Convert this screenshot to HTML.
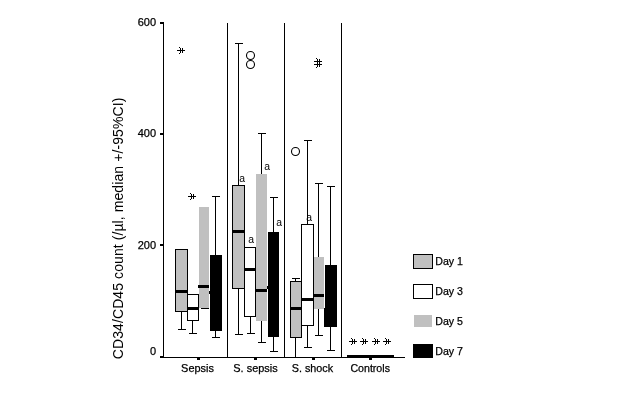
<!DOCTYPE html>
<html><head><meta charset="utf-8"><title>chart</title>
<style>
html,body{margin:0;padding:0;background:#fff;}
body{width:640px;height:400px;overflow:hidden;}
svg{display:block;will-change:transform;}
text{font-family:"Liberation Sans",sans-serif;fill:#000;}
.t11{font-size:11px;stroke:#000;stroke-width:0.25px;}
</style></head><body>
<svg width="640" height="400" viewBox="0 0 640 400">
<rect width="640" height="400" fill="#fff"/>

<rect x="181" y="312" width="1" height="18" fill="#000" shape-rendering="crispEdges"/>
<rect x="178" y="329" width="8" height="1" fill="#000" shape-rendering="crispEdges"/>
<rect x="175" y="249" width="13" height="63" fill="#000" shape-rendering="crispEdges"/>
<rect x="176" y="250" width="11" height="61" fill="#c0c0c0" shape-rendering="crispEdges"/>
<rect x="175" y="290" width="13" height="3" fill="#000" shape-rendering="crispEdges"/>
<rect x="192" y="321" width="1" height="13" fill="#000" shape-rendering="crispEdges"/>
<rect x="189" y="333" width="8" height="1" fill="#000" shape-rendering="crispEdges"/>
<rect x="187" y="294" width="12" height="27" fill="#000" shape-rendering="crispEdges"/>
<rect x="188" y="295" width="10" height="25" fill="#fff" shape-rendering="crispEdges"/>
<rect x="187" y="307" width="12" height="3" fill="#000" shape-rendering="crispEdges"/>
<rect x="199" y="207" width="10" height="101" fill="#c0c0c0" shape-rendering="crispEdges"/>
<rect x="198" y="285" width="11" height="3" fill="#000" shape-rendering="crispEdges"/>
<rect x="201" y="308" width="8" height="1" fill="#000" shape-rendering="crispEdges"/>
<rect x="215" y="196" width="1" height="59" fill="#000" shape-rendering="crispEdges"/>
<rect x="212" y="196" width="8" height="1" fill="#000" shape-rendering="crispEdges"/>
<rect x="215" y="331" width="1" height="7" fill="#000" shape-rendering="crispEdges"/>
<rect x="212" y="337" width="8" height="1" fill="#000" shape-rendering="crispEdges"/>
<rect x="210" y="255" width="12" height="76" fill="#000" shape-rendering="crispEdges"/>
<rect x="209" y="291" width="13" height="3" fill="#000" shape-rendering="crispEdges"/>
<rect x="238" y="43" width="1" height="142" fill="#000" shape-rendering="crispEdges"/>
<rect x="235" y="43" width="8" height="1" fill="#000" shape-rendering="crispEdges"/>
<rect x="238" y="289" width="1" height="46" fill="#000" shape-rendering="crispEdges"/>
<rect x="235" y="334" width="8" height="1" fill="#000" shape-rendering="crispEdges"/>
<rect x="232" y="185" width="13" height="104" fill="#000" shape-rendering="crispEdges"/>
<rect x="233" y="186" width="11" height="102" fill="#c0c0c0" shape-rendering="crispEdges"/>
<rect x="232" y="230" width="13" height="3" fill="#000" shape-rendering="crispEdges"/>
<rect x="250" y="317" width="1" height="17" fill="#000" shape-rendering="crispEdges"/>
<rect x="247" y="333" width="8" height="1" fill="#000" shape-rendering="crispEdges"/>
<rect x="244" y="247" width="12" height="70" fill="#000" shape-rendering="crispEdges"/>
<rect x="245" y="248" width="10" height="68" fill="#fff" shape-rendering="crispEdges"/>
<rect x="244" y="268" width="12" height="3" fill="#000" shape-rendering="crispEdges"/>
<rect x="261" y="133" width="1" height="41" fill="#000" shape-rendering="crispEdges"/>
<rect x="258" y="133" width="8" height="1" fill="#000" shape-rendering="crispEdges"/>
<rect x="261" y="321" width="1" height="22" fill="#000" shape-rendering="crispEdges"/>
<rect x="258" y="342" width="8" height="1" fill="#000" shape-rendering="crispEdges"/>
<rect x="256" y="174" width="11" height="147" fill="#c0c0c0" shape-rendering="crispEdges"/>
<rect x="255" y="289" width="12" height="3" fill="#000" shape-rendering="crispEdges"/>
<rect x="273" y="197" width="1" height="35" fill="#000" shape-rendering="crispEdges"/>
<rect x="270" y="197" width="8" height="1" fill="#000" shape-rendering="crispEdges"/>
<rect x="273" y="337" width="1" height="15" fill="#000" shape-rendering="crispEdges"/>
<rect x="270" y="351" width="8" height="1" fill="#000" shape-rendering="crispEdges"/>
<rect x="268" y="232" width="11" height="105" fill="#000" shape-rendering="crispEdges"/>
<rect x="267" y="286" width="12" height="3" fill="#000" shape-rendering="crispEdges"/>
<rect x="295" y="338" width="1" height="19" fill="#000" shape-rendering="crispEdges"/>
<rect x="295" y="278" width="1" height="3" fill="#000" shape-rendering="crispEdges"/>
<rect x="292" y="278" width="8" height="1" fill="#000" shape-rendering="crispEdges"/>
<rect x="290" y="281" width="12" height="57" fill="#000" shape-rendering="crispEdges"/>
<rect x="291" y="282" width="10" height="55" fill="#c0c0c0" shape-rendering="crispEdges"/>
<rect x="290" y="307" width="12" height="3" fill="#000" shape-rendering="crispEdges"/>
<rect x="307" y="140" width="1" height="84" fill="#000" shape-rendering="crispEdges"/>
<rect x="304" y="140" width="8" height="1" fill="#000" shape-rendering="crispEdges"/>
<rect x="307" y="326" width="1" height="22" fill="#000" shape-rendering="crispEdges"/>
<rect x="304" y="347" width="8" height="1" fill="#000" shape-rendering="crispEdges"/>
<rect x="301" y="224" width="13" height="102" fill="#000" shape-rendering="crispEdges"/>
<rect x="302" y="225" width="11" height="100" fill="#fff" shape-rendering="crispEdges"/>
<rect x="301" y="298" width="13" height="3" fill="#000" shape-rendering="crispEdges"/>
<rect x="318" y="183" width="1" height="74" fill="#000" shape-rendering="crispEdges"/>
<rect x="315" y="183" width="8" height="1" fill="#000" shape-rendering="crispEdges"/>
<rect x="318" y="309" width="1" height="27" fill="#000" shape-rendering="crispEdges"/>
<rect x="315" y="335" width="8" height="1" fill="#000" shape-rendering="crispEdges"/>
<rect x="314" y="257" width="10" height="52" fill="#c0c0c0" shape-rendering="crispEdges"/>
<rect x="313" y="294" width="11" height="3" fill="#000" shape-rendering="crispEdges"/>
<rect x="330" y="186" width="1" height="79" fill="#000" shape-rendering="crispEdges"/>
<rect x="327" y="186" width="8" height="1" fill="#000" shape-rendering="crispEdges"/>
<rect x="330" y="327" width="1" height="24" fill="#000" shape-rendering="crispEdges"/>
<rect x="327" y="350" width="8" height="1" fill="#000" shape-rendering="crispEdges"/>
<rect x="325" y="265" width="12" height="62" fill="#000" shape-rendering="crispEdges"/>
<rect x="324" y="308" width="1" height="19" fill="#000" shape-rendering="crispEdges"/>
<rect x="347" y="355" width="47" height="2" fill="#000" shape-rendering="crispEdges"/>
<rect x="227" y="23" width="1" height="334" fill="#000" shape-rendering="crispEdges"/>
<rect x="284" y="23" width="1" height="334" fill="#000" shape-rendering="crispEdges"/>
<rect x="341" y="23" width="1" height="334" fill="#000" shape-rendering="crispEdges"/>
<rect x="163" y="22" width="1" height="336" fill="#000" shape-rendering="crispEdges"/>
<rect x="160" y="357" width="245" height="1" fill="#000" shape-rendering="crispEdges"/>
<rect x="160" y="22" width="3" height="2" fill="#000" shape-rendering="crispEdges"/>
<rect x="160" y="133" width="3" height="2" fill="#000" shape-rendering="crispEdges"/>
<rect x="160" y="244" width="3" height="2" fill="#000" shape-rendering="crispEdges"/>
<rect x="160" y="356" width="3" height="2" fill="#000" shape-rendering="crispEdges"/>
<rect x="197" y="357" width="3" height="3" fill="#000" shape-rendering="crispEdges"/>
<rect x="254" y="357" width="3" height="3" fill="#000" shape-rendering="crispEdges"/>
<rect x="312" y="357" width="3" height="3" fill="#000" shape-rendering="crispEdges"/>
<rect x="369" y="357" width="3" height="3" fill="#000" shape-rendering="crispEdges"/>
<rect x="177" y="50" width="8" height="1" fill="#000" shape-rendering="crispEdges"/>
<rect x="180" y="48" width="1" height="5" fill="#000" shape-rendering="crispEdges"/>
<rect x="182" y="48" width="1" height="5" fill="#000" shape-rendering="crispEdges"/>
<rect x="179" y="47" width="1" height="1" fill="#000" shape-rendering="crispEdges"/>
<rect x="179" y="53" width="1" height="1" fill="#000" shape-rendering="crispEdges"/>
<rect x="188" y="196" width="8" height="1" fill="#000" shape-rendering="crispEdges"/>
<rect x="191" y="194" width="1" height="5" fill="#000" shape-rendering="crispEdges"/>
<rect x="193" y="194" width="1" height="5" fill="#000" shape-rendering="crispEdges"/>
<rect x="190" y="193" width="1" height="1" fill="#000" shape-rendering="crispEdges"/>
<rect x="190" y="199" width="1" height="1" fill="#000" shape-rendering="crispEdges"/>
<rect x="314" y="61" width="8" height="1" fill="#000" shape-rendering="crispEdges"/>
<rect x="317" y="59" width="1" height="5" fill="#000" shape-rendering="crispEdges"/>
<rect x="319" y="59" width="1" height="5" fill="#000" shape-rendering="crispEdges"/>
<rect x="316" y="58" width="1" height="1" fill="#000" shape-rendering="crispEdges"/>
<rect x="316" y="64" width="1" height="1" fill="#000" shape-rendering="crispEdges"/>
<rect x="314" y="64" width="8" height="1" fill="#000" shape-rendering="crispEdges"/>
<rect x="317" y="62" width="1" height="5" fill="#000" shape-rendering="crispEdges"/>
<rect x="319" y="62" width="1" height="5" fill="#000" shape-rendering="crispEdges"/>
<rect x="316" y="61" width="1" height="1" fill="#000" shape-rendering="crispEdges"/>
<rect x="316" y="67" width="1" height="1" fill="#000" shape-rendering="crispEdges"/>
<rect x="349" y="341" width="8" height="1" fill="#000" shape-rendering="crispEdges"/>
<rect x="352" y="339" width="1" height="5" fill="#000" shape-rendering="crispEdges"/>
<rect x="354" y="339" width="1" height="5" fill="#000" shape-rendering="crispEdges"/>
<rect x="351" y="338" width="1" height="1" fill="#000" shape-rendering="crispEdges"/>
<rect x="351" y="344" width="1" height="1" fill="#000" shape-rendering="crispEdges"/>
<rect x="360" y="341" width="8" height="1" fill="#000" shape-rendering="crispEdges"/>
<rect x="363" y="339" width="1" height="5" fill="#000" shape-rendering="crispEdges"/>
<rect x="365" y="339" width="1" height="5" fill="#000" shape-rendering="crispEdges"/>
<rect x="362" y="338" width="1" height="1" fill="#000" shape-rendering="crispEdges"/>
<rect x="362" y="344" width="1" height="1" fill="#000" shape-rendering="crispEdges"/>
<rect x="372" y="341" width="8" height="1" fill="#000" shape-rendering="crispEdges"/>
<rect x="375" y="339" width="1" height="5" fill="#000" shape-rendering="crispEdges"/>
<rect x="377" y="339" width="1" height="5" fill="#000" shape-rendering="crispEdges"/>
<rect x="374" y="338" width="1" height="1" fill="#000" shape-rendering="crispEdges"/>
<rect x="374" y="344" width="1" height="1" fill="#000" shape-rendering="crispEdges"/>
<rect x="383" y="341" width="8" height="1" fill="#000" shape-rendering="crispEdges"/>
<rect x="386" y="339" width="1" height="5" fill="#000" shape-rendering="crispEdges"/>
<rect x="388" y="339" width="1" height="5" fill="#000" shape-rendering="crispEdges"/>
<rect x="385" y="338" width="1" height="1" fill="#000" shape-rendering="crispEdges"/>
<rect x="385" y="344" width="1" height="1" fill="#000" shape-rendering="crispEdges"/>
<circle cx="250.5" cy="55.5" r="4" fill="none" stroke="#000" stroke-width="1.1"/>
<circle cx="250.5" cy="64.5" r="4" fill="none" stroke="#000" stroke-width="1.1"/>
<circle cx="295.5" cy="151.5" r="4" fill="none" stroke="#000" stroke-width="1.1"/>
<text class="t11" x="156" y="26" text-anchor="end">600</text>
<text class="t11" x="156" y="137" text-anchor="end">400</text>
<text class="t11" x="156" y="249" text-anchor="end">200</text>
<text class="t11" x="156" y="355" text-anchor="end">0</text>
<text class="t11" x="181.1" y="371.7" textLength="32.8" lengthAdjust="spacingAndGlyphs">Sepsis</text>
<text class="t11" x="233.3" y="371.7" textLength="44.4" lengthAdjust="spacingAndGlyphs">S. sepsis</text>
<text class="t11" x="291.75" y="371.7" textLength="41.3" lengthAdjust="spacingAndGlyphs">S. shock</text>
<text class="t11" x="350.45" y="371.7" textLength="39.5" lengthAdjust="spacingAndGlyphs">Controls</text>
<text font-size="10.4" x="242.2" y="182" text-anchor="middle">a</text>
<text font-size="10.4" x="251.2" y="243" text-anchor="middle">a</text>
<text font-size="10.4" x="267.2" y="170" text-anchor="middle">a</text>
<text font-size="10.4" x="279.2" y="226" text-anchor="middle">a</text>
<text font-size="10.4" x="309.2" y="221" text-anchor="middle">a</text>
<text font-size="14" fill="#222" transform="translate(123,359.2) rotate(-90)" textLength="261.5" lengthAdjust="spacing">CD34/CD45 count (/µl, median +/-95%CI)</text>
<rect x="413" y="254" width="20" height="15" fill="#000" shape-rendering="crispEdges"/>
<rect x="414" y="255" width="18" height="13" fill="#c0c0c0" shape-rendering="crispEdges"/>
<text class="t11" x="435.3" y="265.3" textLength="27.7" lengthAdjust="spacingAndGlyphs">Day 1</text>
<rect x="413" y="284" width="20" height="15" fill="#000" shape-rendering="crispEdges"/>
<rect x="414" y="285" width="18" height="13" fill="#fff" shape-rendering="crispEdges"/>
<text class="t11" x="435.3" y="295.3" textLength="27.7" lengthAdjust="spacingAndGlyphs">Day 3</text>
<rect x="414" y="315" width="18" height="12" fill="#c0c0c0" shape-rendering="crispEdges"/>
<text class="t11" x="435.3" y="324.8" textLength="27.7" lengthAdjust="spacingAndGlyphs">Day 5</text>
<rect x="413" y="344" width="20" height="14" fill="#000" shape-rendering="crispEdges"/>
<text class="t11" x="435.3" y="354.8" textLength="27.7" lengthAdjust="spacingAndGlyphs">Day 7</text>
</svg></body></html>
